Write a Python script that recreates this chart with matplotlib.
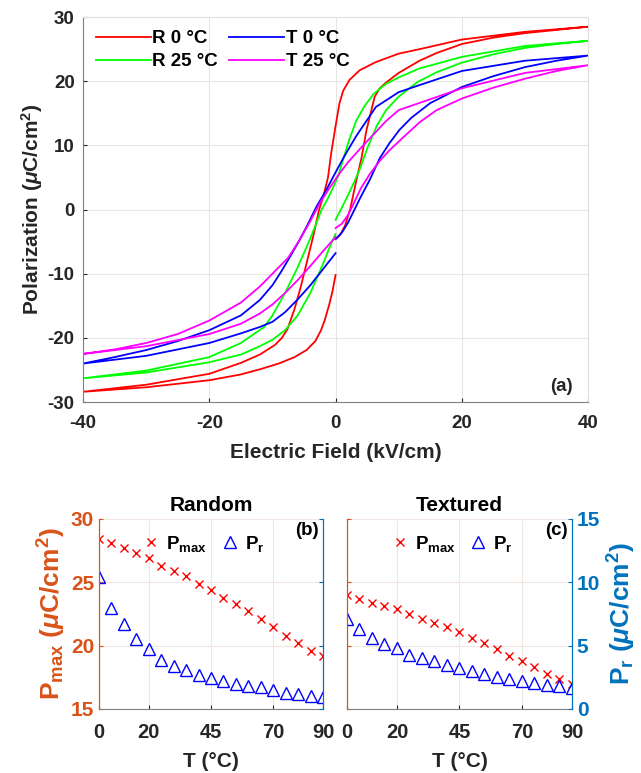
import matplotlib
matplotlib.use('Agg')
import matplotlib.pyplot as plt
import numpy as np

plt.rcParams['font.family'] = ['Liberation Sans', 'DejaVu Sans']
plt.rcParams['font.weight'] = 'bold'
plt.rcParams['mathtext.fontset'] = 'custom'
plt.rcParams['mathtext.rm'] = 'Liberation Sans:bold'
plt.rcParams['mathtext.bf'] = 'Liberation Sans:bold'
plt.rcParams['mathtext.it'] = 'Liberation Sans:italic'
plt.rcParams['axes.unicode_minus'] = False

# ---- (a) P-E loops: (E kV/cm, P uC/cm2) ----
# each loop: 0 -> +40, +40 -> -40, -40 -> 0
r0_E = [0, 0.7, 1.5, 2.3, 3.3, 4.1, 4.9, 5.6, 6.2, 7, 8, 10, 13.3, 16, 20, 25, 30, 35, 40,
        30, 20, 13.3, 10, 6.4, 3.8, 2.2, 1.2, 0.6, 0, -0.7, -1.2, -1.9, -2.6, -3.5, -4.5, -5.5, -6.5,
        -7.6, -8.5, -9.6, -12, -15, -20, -30, -40,
        -30, -20, -15, -12, -9, -6.5, -4.6, -3.2, -2.3, -1.7, -1, -0.5, 0]
r0_P = [-4.6, -4.0, -2.5, 0, 4.6, 8.0, 12.4, 15.2, 17.6, 18.9, 19.8, 21.3, 23.2, 24.4, 25.8, 26.8, 27.5, 28.0, 28.5,
        27.7, 26.5, 25.0, 24.3, 23.0, 21.7, 20.2, 18.5, 16.5, 13.0, 8.75, 5.0, 2.2, 0, -4, -8, -12, -15.5,
        -18.6, -20.0, -21.1, -22.6, -23.9, -25.6, -27.3, -28.4,
        -27.7, -26.6, -25.7, -24.9, -24.0, -23.0, -21.9, -20.5, -18.8, -17.2, -14.8, -12.8, -10.2]

r25_E = [0, 1, 2, 3, 3.8, 5, 6.5, 8, 10, 13, 16, 20, 25, 30, 35, 40,
         30, 20, 13.3, 10, 8, 6, 4.5, 3.3, 2.2, 1.2, 0.4, -0.5, -1.3, -2.2, -4, -6, -8, -10, -11.3, -15, -20, -30, -40,
         -30, -20, -15, -12, -10, -8, -6, -4, -2, -1, 0]
r25_P = [-1.6, 0.3, 2.3, 4.4, 6.2, 9.5, 13, 15.5, 17.6, 19.9, 21.4, 22.9, 24.2, 25.2, 25.8, 26.3,
         25.5, 23.8, 22.0, 20.6, 19.6, 18.0, 16.0, 13.9, 11.0, 7.8, 5.2, 3.2, 1.6, 0, -4.5, -9, -13, -16.5, -18.3, -20.8, -23.0, -25.1, -26.3,
         -25.4, -23.8, -22.6, -21.3, -20.3, -18.8, -16.5, -13, -8.5, -6, -3.8]

t0_E = [0, 1, 2, 3, 4, 5.4, 7, 8.5, 10.1, 12, 15, 20, 25, 30, 35, 40,
        30, 20, 13.3, 10, 6.4, 3.3, 1.5, 0, -1.5, -3, -4.5, -5.7, -7, -8.5, -10, -12, -15, -20, -25, -30, -35, -40,
        -30, -20, -15, -12, -10, -8, -6, -4, -2, 0]
t0_P = [-4.6, -3.6, -2, 0, 2, 4.6, 8, 10.3, 12.4, 14.3, 16.6, 19.1, 20.8, 22.2, 23.2, 24.0,
        23.2, 21.6, 19.4, 18.3, 16.0, 11.5, 8.5, 5.8, 3, 0.5, -2.5, -4.75, -7, -9.5, -11.8, -14.1, -16.5, -18.8, -20.5, -21.9, -23, -24.0,
        -22.8, -20.8, -19.3, -18.3, -17.5, -16, -14, -11.8, -9.3, -6.8]

t25_E = [0, 1, 2, 3, 4, 5.4, 7, 8.5, 10, 13.3, 16, 20, 25, 30, 35, 40,
         30, 20, 15, 10, 8, 6, 4, 2, 0.6, -1, -2.5, -4, -5.7, -7.5, -10, -12, -15, -20, -25, -30, -35, -40,
         -30, -20, -15, -12, -10, -8, -6, -4, -2, 0]
t25_P = [-2.9, -2.2, -0.8, 1.2, 3.3, 5.5, 7.6, 9.2, 10.6, 13.6, 15.5, 17.3, 19.0, 20.4, 21.6, 22.5,
         21.3, 18.9, 17.2, 15.5, 13.8, 11.7, 9.6, 7.4, 5.6, 3.3, 1.0, -1.8, -4.75, -7.5, -10, -12, -14.5, -17.3, -19.4, -20.8, -21.8, -22.5,
         -21.3, -19.4, -17.8, -16.2, -14.8, -13, -11, -8.8, -6.5, -4.3]

# ---- (b), (c) temperature dependence ----
temp = [0, 5, 10, 15, 20, 25, 30, 35, 40, 45, 50, 55, 60, 65, 70, 75, 80, 85, 90]
pmax_random = [28.4, 28.1, 27.7, 27.3, 26.9, 26.3, 25.9, 25.5, 24.9, 24.4, 23.8, 23.3, 22.7, 22.1, 21.5,
               20.8, 20.2, 19.6, 19.2]
pr_random = [10.4, 8.0, 6.7, 5.5, 4.7, 3.9, 3.4, 3.05, 2.7, 2.45, 2.2, 2.0, 1.8, 1.7, 1.5, 1.3, 1.15, 1.05, 0.95]
pmax_textured = [24.0, 23.7, 23.4, 23.1, 22.9, 22.5, 22.1, 21.8, 21.5, 21.1, 20.6, 20.2, 19.7, 19.2,
                 18.8, 18.3, 17.8, 17.4, 17.0]
pr_textured = [7.1, 6.35, 5.6, 5.1, 4.85, 4.3, 4.0, 3.75, 3.5, 3.2, 3.0, 2.75, 2.55, 2.4, 2.2, 2.05, 1.9,
               1.8, 1.65]

orange = '#D95319'
mblue = '#0072BD'

fig = plt.figure(figsize=(6.41, 7.73), dpi=100)

ax = fig.add_axes([0.1295, 0.4799, 0.788, 0.498])
ax.plot(r0_E, r0_P, color='#FF0000', lw=1.3, label='R 0 °C')
ax.plot(r25_E, r25_P, color='#00FF00', lw=1.3, label='R 25 °C')
ax.plot(t0_E, t0_P, color='#0000FF', lw=1.3, label='T 0 °C')
ax.plot(t25_E, t25_P, color='#FF00FF', lw=1.3, label='T 25 °C')
ax.set_xlim(-40, 40)
ax.set_ylim(-30, 30)
ax.set_xticks([-40, -20, 0, 20, 40])
ax.set_yticks([-30, -20, -10, 0, 10, 20, 30])
ax.grid(True, color='#e6e6e6', lw=0.8)
ax.set_axisbelow(True)
ax.tick_params(direction='in', length=3, labelsize=13.5, colors='#262626')
ax.tick_params(axis='x', pad=9)
ax.tick_params(axis='y', pad=6)
for s in ['left', 'bottom']:
    ax.spines[s].set_color('#808080')
for s in ['top', 'right']:
    ax.spines[s].set_color('#e0e0e0')
ax.set_xlabel('Electric Field (kV/cm)', fontsize=15, fontweight='bold', color='#262626', labelpad=8)
ax.set_ylabel(r'Polarization ($\mu$C/cm$^2$)', fontsize=15, fontweight='bold', color='#262626', labelpad=2)
ax.legend(loc='upper left', ncol=2, frameon=False, fontsize=13.5, handlelength=2.9,
          handletextpad=0.1, columnspacing=0.6, labelspacing=0.3, borderaxespad=0.3)
ax.text(0.97, 0.04, '(a)', transform=ax.transAxes, fontsize=13.5, fontweight='bold',
        ha='right', va='center', color='#262626')


def panel(rect, pmax, pr, title, tag, left_labels):
    a = fig.add_axes(rect)
    b = a.twinx()
    l1, = a.plot(temp, pmax, 'x', color='#FF0000', ms=6, mew=1.0)
    l2, = b.plot(temp, pr, '^', color='#0000FF', mfc='none', ms=9, mew=1.0)
    a.set_xlim(0, 90)
    a.set_ylim(15, 30)
    b.set_ylim(0, 15)
    a.set_xticks([0, 20, 45, 70, 90])
    a.set_yticks([15, 20, 25, 30])
    b.set_yticks([0, 5, 10, 15])
    a.grid(True, color='#f2e6e0', lw=0.8)
    a.set_axisbelow(True)
    a.tick_params(axis='x', direction='in', length=3, labelsize=14.5, colors='#262626', pad=10)
    a.tick_params(axis='y', direction='in', length=3, labelsize=15, colors=orange,
                  labelleft=left_labels)
    b.tick_params(axis='y', direction='in', length=3, labelsize=15, colors=mblue,
                  labelright=not left_labels)
    for s in [a.spines['left'], b.spines['left']]:
        s.set_color(orange)
    for s in [a.spines['right'], b.spines['right']]:
        s.set_color(mblue)
    for s in [a.spines['top'], b.spines['top']]:
        s.set_visible(False)
    a.spines['bottom'].set_color('#808080')
    b.spines['bottom'].set_visible(False)
    a.set_title(title, fontsize=15, fontweight='bold', pad=6)
    a.set_xlabel('T (°C)', fontsize=15, fontweight='bold', color='#262626', labelpad=7)
    b.legend([l1, l2], [r'P$_{\mathrm{max}}$', r'P$_{\mathrm{r}}$'], loc='upper center',
             bbox_to_anchor=(0.46, 1.01), ncol=2, frameon=False, fontsize=13.5,
             handletextpad=0.2, columnspacing=0.6, handlelength=1.2)
    a.text(0.98, 0.94, tag, transform=a.transAxes, fontsize=13.5, fontweight='bold',
           ha='right', va='center')
    return a, b


ab, bb = panel([0.1544, 0.0828, 0.3495, 0.2458], pmax_random, pr_random, 'Random', '(b)', True)
ac, bc = panel([0.5413, 0.0828, 0.351, 0.2458], pmax_textured, pr_textured, 'Textured', '(c)', False)
ab.set_ylabel(r'P$_{\mathrm{max}}$ ($\mu$C/cm$^2$)', fontsize=19, fontweight='bold', color=orange, labelpad=2)
bc.set_ylabel(r'P$_{\mathrm{r}}$ ($\mu$C/cm$^2$)', fontsize=19, fontweight='bold', color=mblue, labelpad=4)

fig.savefig('out.png', dpi=100)
